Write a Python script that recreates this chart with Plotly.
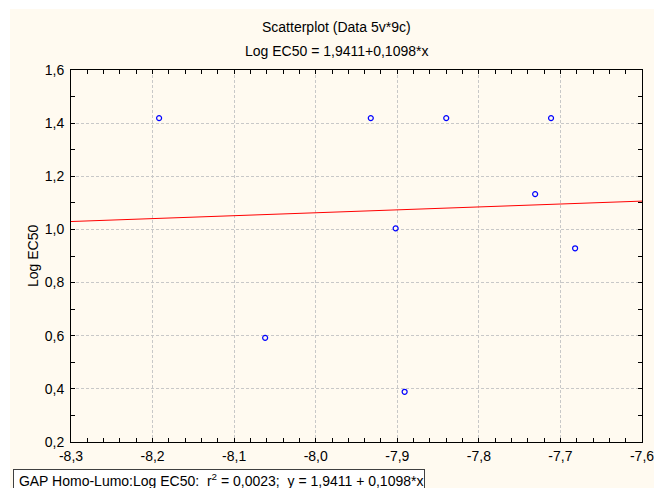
import plotly.graph_objects as go

# Data
gap_x = [-8.192, -7.9325, -8.062, -7.902, -7.891, -7.840, -7.7115, -7.731, -7.682]
log_ec50 = [1.419, 1.419, 0.592, 1.004, 0.389, 1.419, 1.419, 1.133, 0.929]
intercept = 1.9411
slope = 0.1098
x_range = [-8.3, -7.6]
y_range = [0.2, 1.6]
x_ticks = [-8.3, -8.2, -8.1, -8.0, -7.9, -7.8, -7.7, -7.6]
y_ticks = [0.2, 0.4, 0.6, 0.8, 1.0, 1.2, 1.4, 1.6]
title_main = "Scatterplot (Data 5v*9c)"
title_sub = "Log EC50 = 1,9411+0,1098*x"
y_title = "Log EC50"
footer = " GAP Homo-Lumo:Log EC50:  r<sup>2</sup> = 0,0023;  y = 1,9411 + 0,1098*x"

def fmt(v):
    return f"{v:.1f}".replace(".", ",")

line_x = x_range
line_y = [intercept + slope * v for v in line_x]

W, H = 654, 488
L, R, T, B = 71, 12, 70, 46
pw, ph = W - L - R, H - T - B

def px(xp):
    return (xp - L) / pw

def py(yp):
    return (H - B - yp) / ph

font = dict(family="Liberation Sans, Arial, sans-serif", size=14, color="#000000")

fig = go.Figure()
fig.add_trace(go.Scatter(x=line_x, y=line_y, mode="lines",
                         line=dict(color="#ff0000", width=1), hoverinfo="skip"))
fig.add_trace(go.Scatter(x=gap_x, y=log_ec50, mode="markers",
                         marker=dict(symbol="circle-open", size=5, color="#0000ff",
                                     line=dict(width=1.2, color="#0000ff"))))

axis_common = dict(
    showline=True, linecolor="#000000", linewidth=1, mirror="allticks",
    ticks="inside", ticklen=4, tickcolor="#000000", tickwidth=1,
    showgrid=True, gridcolor="#c8c8c8", griddash="3px,2px", gridwidth=1,
    zeroline=False, tickfont=font, tickmode="array",
    ticklabeloverflow="allow", automargin=False,
)

fig.update_xaxes(range=x_range, tickvals=x_ticks, ticktext=[fmt(v) for v in x_ticks],
                 ticklabelstandoff=1,
                 minor=dict(dtick=0.02, tick0=-8.3, ticks="inside", ticklen=4,
                            tickcolor="#000000", showgrid=False),
                 **axis_common)
fig.update_yaxes(range=y_range, tickvals=y_ticks, ticktext=[fmt(v) for v in y_ticks],
                 ticklabelstandoff=3,
                 minor=dict(dtick=0.1, tick0=0.2, ticks="inside", ticklen=4,
                            tickcolor="#000000", showgrid=False),
                 **axis_common)

fig.add_shape(type="rect", xref="paper", yref="paper",
              x0=px(10), x1=px(W + 5), y0=py(H + 5), y1=py(9),
              fillcolor="#fffaf0", line=dict(width=0), layer="below")

fig.add_annotation(text=title_main, xref="paper", yref="paper", x=px(336), y=py(26.5),
                   xanchor="center", yanchor="middle", showarrow=False, font=font)
fig.add_annotation(text=title_sub, xref="paper", yref="paper", x=px(336), y=py(51.5),
                   xanchor="center", yanchor="middle", showarrow=False, font=font)
fig.add_annotation(text=y_title, xref="paper", yref="paper", x=px(33), y=py(256),
                   xanchor="center", yanchor="middle", textangle=-90, showarrow=False, font=font)
fig.add_annotation(text=footer, xref="paper", yref="paper", x=px(12.5), y=py(469),
                   xanchor="left", yanchor="top", showarrow=False, font=font,
                   bgcolor="#ffffff", bordercolor="#404040", borderwidth=1, borderpad=1,
                   align="left")

fig.update_layout(
    width=W, height=H, autosize=False,
    margin=dict(l=L, r=R, t=T, b=B, pad=0),
    paper_bgcolor="#ffffff", plot_bgcolor="#ffffff",
    showlegend=False, font=font,
)

fig.write_html("out.html", config={"displayModeBar": False},
               post_script="document.body.style.margin='0';document.body.style.overflow='hidden';")
